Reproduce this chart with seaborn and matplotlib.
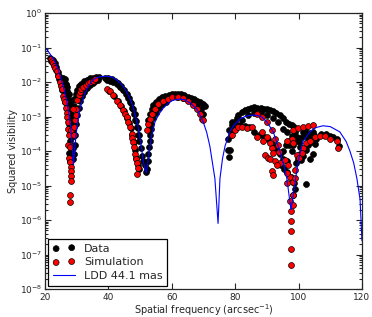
import numpy as np
import pandas as pd
import seaborn as sns
import matplotlib
matplotlib.use("Agg")
import matplotlib.pyplot as plt
from matplotlib.ticker import LogLocator, NullFormatter

# LDD model curve
ldd_x = [20, 21, 22, 22.8, 24, 25, 26, 27, 28, 28.5, 29.0, 29.4, 29.8, 30.3, 31, 31.6, 32.3, 33.3,
         34.4, 35.4, 36.4, 38, 39.6, 41, 42.5, 44, 45.2, 46.5, 47.8, 49.3, 50.3, 51.0, 51.9, 52.5,
         53.5, 54.7, 56, 57.2, 59, 60.5, 62.5, 64, 66, 68, 69.8, 71, 72, 73.6, 74.6, 75.2, 76.0,
         76.8, 78.4, 79.3, 81.5, 83.3, 85.3, 87, 88.5, 90, 92, 94.1, 95.3, 96.3, 97.6, 98.2, 99.5,
         100.5, 101.4, 103.6, 105.5, 107.7, 110, 113, 115, 116.2, 117.4, 118.4, 119.4, 120]
ldd_y = [0.10, 0.078, 0.057, 0.045, 0.025, 0.013, 6.2e-3, 2.4e-3, 6e-4, 1.8e-4, 4e-5, 1.2e-4, 3e-4,
         7e-4, 1.6e-3, 2.6e-3, 4e-3, 6.5e-3, 9.5e-3, 1.2e-2, 1.35e-2, 1.45e-2, 1.47e-2, 1.4e-2,
         1.18e-2, 8.8e-3, 6.3e-3, 3.8e-3, 1.9e-3, 5.4e-4, 1.6e-4, 5e-5, 2.3e-5, 5e-5, 2.5e-4, 7e-4,
         1.2e-3, 1.7e-3, 2.5e-3, 3e-3, 3.2e-3, 3.1e-3, 2.4e-3, 1.6e-3, 7.5e-4, 3.5e-4, 1.4e-4,
         1.6e-5, 8e-7, 1.6e-5, 6e-5, 1.4e-4, 3.8e-4, 5.2e-4, 8.5e-4, 1.02e-3, 1.1e-3, 1.08e-3,
         9.5e-4, 7e-4, 3.6e-4, 1e-4, 4e-5, 1.6e-5, 2e-6, 4.4e-6, 3e-5, 9e-5, 1.9e-4, 3.6e-4,
         4.8e-4, 5.4e-4, 5.1e-4, 3.6e-4, 1.9e-4, 1e-4, 4.5e-5, 1.6e-5, 4e-6, 2.5e-7]

# measured data (black), by lobe
d1_x = [21.6, 22.0, 22.5, 23.0, 23.5, 24.0, 24.5, 25.0, 25.5, 26.0, 26.4, 26.8, 27.2, 27.5, 27.8, 28.0, 28.2,
        22.4, 23.0, 23.6, 24.2, 24.8, 25.4, 26.0, 26.5, 27.0, 27.4, 27.8, 28.2, 28.5, 28.7,
        26.2, 26.6, 27.0, 27.4, 27.8, 28.2, 28.5, 28.8, 28.4, 28.7, 27.6, 28.0,
        25.6, 26.0, 26.5, 27.0, 27.6, 28.1, 28.4]
d1_y = [5.0e-2, 4.2e-2, 3.5e-2, 2.8e-2, 2.2e-2, 1.6e-2, 1.2e-2, 8.5e-3, 6.0e-3, 4.0e-3, 2.6e-3, 1.6e-3,
        1.0e-3, 6.0e-4, 3.5e-4, 2.0e-4, 1.2e-4,
        4.4e-2, 3.6e-2, 2.8e-2, 2.0e-2, 1.4e-2, 9.5e-3, 6.0e-3, 3.8e-3, 2.4e-3, 1.5e-3, 9.0e-4, 5.0e-4,
        2.5e-4, 1.2e-4,
        1.2e-2, 8.0e-3, 5.5e-3, 3.5e-3, 2.0e-3, 1.2e-3, 7.0e-4, 4.0e-4, 8.0e-5, 6.0e-5, 9e-5, 5e-5,
        1.3e-2, 1.1e-2, 9e-3, 7e-3, 4.5e-3, 2.8e-3, 1.8e-3]
d2_x = [28.6, 28.8, 29.0, 29.3, 29.7, 30.2, 30.8, 31.5, 32.3, 33.2, 34.2, 35.2, 36.2, 37.1,
        29.2, 29.4, 29.6, 29.9, 30.2, 30.6, 31.1, 31.7, 32.4, 33.2, 34.1, 35.0, 35.9, 36.8]
d2_y = [5e-4, 1e-3, 2e-3, 3.2e-3, 4.5e-3, 6e-3, 7.5e-3, 9e-3, 1.05e-2, 1.18e-2, 1.28e-2, 1.35e-2, 1.4e-2, 1.42e-2,
        8e-5, 1.5e-4, 3e-4, 6e-4, 1.1e-3, 1.8e-3, 2.8e-3, 4e-3, 5.3e-3, 6.8e-3, 8.2e-3, 9.5e-3, 1.05e-2, 1.15e-2]
d3_x = [39.0, 40.0, 41.0, 42.0, 43.0, 44.0, 45.0, 45.8, 46.5, 47.2, 47.8, 48.3, 48.8, 49.2, 49.6,
        39.6, 40.6, 41.6, 42.6, 43.6, 44.6, 45.4, 46.1, 46.8, 47.4, 48.0, 48.5, 49.0, 49.4,
        40.3, 41.8, 42.9, 44.0, 45.0, 46.0, 46.6, 47.1, 47.6, 48.1, 48.5, 48.8, 49.2, 49.5,
        49.8, 50.2, 50.6, 51.0, 51.4, 51.8, 52.2, 52.4, 52.6, 52.8, 53.0, 53.2, 53.4]
d3_y = [1.35e-2, 1.3e-2, 1.22e-2, 1.08e-2, 9.2e-3, 7.6e-3, 6.0e-3, 4.6e-3, 3.5e-3, 2.5e-3, 1.7e-3, 1.15e-3,
        7.5e-4, 4.8e-4, 3.0e-4,
        1.15e-2, 1.1e-2, 1.0e-2, 8.8e-3, 7.3e-3, 5.8e-3, 4.6e-3, 3.5e-3, 2.6e-3, 1.8e-3, 1.2e-3, 8e-4, 5e-4, 3e-4,
        5.5e-3, 3.9e-3, 2.8e-3, 2.0e-3, 1.4e-3, 9e-4, 6.5e-4, 4.6e-4, 3e-4, 1.8e-4, 1.1e-4, 6.5e-5, 4e-5, 3e-5,
        2e-4, 1.2e-4, 7e-5, 5e-5, 4e-5, 2.5e-5, 3e-5, 5e-5, 8e-5, 1.3e-4, 2e-4, 3e-4, 4.5e-4]
d4_x = [52.6, 53.1, 53.6, 54.2, 55.0, 56.0, 57.0, 58.0, 59.0, 60.0, 61.0, 62.0, 63.0,
        52.9, 53.5, 54.1, 54.9, 55.9, 57.0, 58.2,
        64.0, 65.0, 66.0, 67.0, 68.0, 69.0, 70.0, 70.6,
        63.5, 65.0, 66.5, 68.0, 69.2, 70.0]
d4_y = [8e-4, 1.2e-3, 1.6e-3, 2.1e-3, 2.6e-3, 3.2e-3, 3.6e-3, 4e-3, 4.2e-3, 4.4e-3, 4.5e-3, 4.5e-3, 4.4e-3,
        4e-4, 6e-4, 9e-4, 1.3e-3, 1.8e-3, 2.3e-3, 2.7e-3,
        4.1e-3, 3.8e-3, 3.5e-3, 3.2e-3, 2.9e-3, 2.6e-3, 2.3e-3, 2.0e-3,
        3.4e-3, 3.0e-3, 2.6e-3, 2.1e-3, 1.6e-3, 1.2e-3]
d5_x = [77.8, 77.8, 78.1, 78.4, 78.6, 79.0, 79.4, 80.0, 80.5, 77.9, 78.9,
        81.0, 82.0, 83.0, 84.0, 85.0, 86.0, 87.0, 88.0, 89.0, 90.0, 91.0, 92.0, 93.0, 94.0, 95.0, 96.0, 97.0, 98.0,
        82.0, 84.0, 86.0, 88.0, 90.0, 92.0, 93.5, 95.0, 96.5,
        81.5, 83.0, 84.5, 86.0, 87.5, 89.0, 90.5, 92.0, 93.0, 94.0, 95.0, 96.0, 97.0, 98.0,
        94.5, 95.5, 96.5, 97.5, 98.5, 99.0, 95.0, 96.5]
d5_y = [2.3e-4, 1.1e-4, 6.8e-5, 1.1e-4, 3e-4, 5.5e-4, 4.5e-4, 7e-4, 9e-4, 4e-4, 7e-4,
        1.1e-3, 1.35e-3, 1.55e-3, 1.7e-3, 1.8e-3, 1.85e-3, 1.8e-3, 1.75e-3, 1.7e-3, 1.6e-3, 1.5e-3, 1.45e-3,
        1.3e-3, 1.1e-3, 9e-4, 7e-4, 6e-4, 5.5e-4,
        8e-4, 1.1e-3, 1.3e-3, 1.25e-3, 1.1e-3, 9e-4, 7e-4, 4.5e-4, 3.5e-4,
        5.5e-4, 5.2e-4, 5e-4, 3.5e-4, 3e-4, 2.5e-4, 2.2e-4, 1.5e-4, 1.2e-4, 8e-5, 1e-4, 1.5e-4, 2e-4, 2.8e-4,
        4e-5, 3e-5, 2.5e-5, 1.8e-5, 1.2e-5, 8e-6, 6e-5, 5e-5]
d6_x = [98.5, 99.0, 99.5, 100.0, 100.5, 101.0, 101.5, 102.0, 102.5, 103.0, 103.5, 104.0, 104.5, 105.0, 105.5,
        100.3, 99.8, 99.3, 100.8, 101.5, 102.2, 103.0, 104.0, 105.2, 104.7, 103.5, 98.8, 98.2, 97.8, 97.0,
        107.0, 108.5, 110.0, 111.0, 112.0, 112.8, 102.4]
d6_y = [5e-4, 3.5e-4, 2.5e-4, 1.8e-4, 1.3e-4, 2.5e-4, 3.5e-4, 4e-4, 3e-4, 2.3e-4, 3.3e-4, 2.6e-4, 3.6e-4,
        3e-4, 2.2e-4,
        8e-5, 6e-5, 4.5e-5, 5.5e-5, 7e-5, 1.1e-4, 1.5e-4, 1.8e-4, 1.6e-4, 8e-5, 6e-5, 2.2e-4, 1.5e-4, 1e-4, 1.5e-4,
        3.2e-4, 3.2e-4, 2.8e-4, 2.6e-4, 2.3e-4, 1.4e-4, 1.1e-5]

# simulation (red), by lobe
s1_x = [21.8, 22.1, 22.4, 22.9, 23.3, 23.7, 24.2, 24.7, 25.0, 25.3, 25.8, 26.0, 26.3, 26.6, 26.8, 27.0, 27.2,
        27.4, 27.7, 27.9, 28.1, 27.3, 27.9, 27.6, 27.9, 28.1, 28.3, 28.3, 28.1, 27.9, 27.9]
s1_y = [4.7e-2, 4.1e-2, 3.6e-2, 2.9e-2, 2.5e-2, 2.1e-2, 1.5e-2, 9.7e-3, 7.8e-3, 6.2e-3, 4.0e-3, 3.2e-3,
        2.6e-3, 1.8e-3, 1.3e-3, 9.5e-4, 6.9e-4, 4.5e-4, 2.9e-4, 1.5e-4, 4.0e-4, 1.5e-4, 1.35e-4, 6.2e-5,
        4.9e-5, 3.5e-5, 2.6e-5, 1.9e-5, 1.4e-5, 5.5e-6, 3.4e-6]
s2_x = [29.1, 29.3, 29.5, 29.7, 29.9, 30.2, 30.6, 31.0, 31.5, 32.1, 32.8, 33.5, 34.3, 35.1, 35.9, 28.9]
s2_y = [2.9e-4, 5e-4, 8e-4, 1.1e-3, 1.7e-3, 3e-3, 4.2e-3, 5.3e-3, 6.3e-3, 7.3e-3, 8.3e-3, 9.2e-3, 1e-2,
        1.1e-2, 1.2e-2, 1.7e-3]
s3_x = [39.5, 40.4, 41.5, 42.6, 43.7, 44.7, 45.3, 45.8, 46.3, 46.8, 47.3, 47.6, 47.9, 48.2, 48.4, 48.6,
        48.9, 48.9, 49.2]
s3_y = [6.3e-3, 5.4e-3, 4.2e-3, 2.9e-3, 2.1e-3, 1.5e-3, 1.2e-3, 9.5e-4, 6.9e-4, 5e-4, 3.2e-4, 2.4e-4,
        1.8e-4, 1.3e-4, 8e-5, 6e-5, 4.4e-5, 2.2e-5, 3.2e-5]
s4_x = [52.1, 52.6, 53.1, 53.7, 54.7, 55.7, 57.3, 58.9, 60.0, 61.5, 62.0,
        63.6, 65.2, 66.8, 67.9, 68.9, 69.4, 69.9]
s4_y = [4e-4, 6.2e-4, 8.5e-4, 1.2e-3, 1.65e-3, 2.3e-3, 2.9e-3, 3.2e-3, 3.7e-3, 3.8e-3, 3.8e-3,
        3.4e-3, 2.9e-3, 2.1e-3, 1.65e-3, 1.2e-3, 8.5e-4, 7.7e-4]
s5_x = [78.9, 79.9, 81.0, 82.0, 83.6, 85.2, 86.8, 86.8, 88.4, 88.9, 90.0, 91.0, 91.5, 92.0, 89.4, 90.4,
        91.5, 92.0, 94.1, 95.7, 96.8, 97.3, 98.3, 97.8, 98.3, 99.4, 96.2, 88.5, 90.0, 91.5, 92.6, 93.4,
        93.9, 91.0, 92.5, 93.3, 96.2, 96.2]
s5_y = [2.9e-4, 4e-4, 5e-4, 5e-4, 4.8e-4, 5e-4, 2.6e-4, 1.2e-3, 3.5e-4, 2e-4, 2.6e-4, 1.7e-4, 1.2e-4,
        8.5e-5, 7.6e-5, 6.2e-5, 2.6e-5, 2e-5, 4.4e-5, 5.5e-5, 4e-5, 1.8e-5, 1.3e-5, 2.3e-4, 1.7e-4,
        7.6e-5, 2e-4, 1e-3, 7e-4, 4e-4, 2.3e-4, 1.5e-4, 9.5e-5, 6e-5, 5e-5, 4e-5, 2.3e-5, 1.2e-5]
s6_x = [98.3, 98.3, 97.3, 98.3, 97.5, 97.6, 97.6, 97.6, 97.6,
        98.3, 99.9, 101.5, 103.1, 104.6, 102.5, 103.6, 105.2, 106.8, 108.3, 109.9, 112.0, 112.5,
        101.5, 101.0, 100.2, 98.9, 98.9, 98.1]
s6_y = [1.26e-5, 5.5e-6, 3.5e-6, 2.8e-6, 1.8e-6, 9.3e-7, 4.9e-7, 1.45e-7, 5.1e-8,
        4e-4, 4.7e-4, 5e-4, 5.2e-4, 5.5e-4, 1.7e-4, 2e-4, 2.6e-4, 2.75e-4, 2.75e-4, 2.2e-4, 1.9e-4, 1.25e-4,
        1.2e-4, 8.5e-5, 6.2e-5, 2.8e-5, 1.7e-5, 5.5e-6]

data = pd.DataFrame({"x": d1_x + d2_x + d3_x + d4_x + d5_x + d6_x,
                     "y": d1_y + d2_y + d3_y + d4_y + d5_y + d6_y})
sim = pd.DataFrame({"x": s1_x + s2_x + s3_x + s4_x + s5_x + s6_x,
                    "y": s1_y + s2_y + s3_y + s4_y + s5_y + s6_y})
ldd = pd.DataFrame({"x": ldd_x, "y": ldd_y})

sns.set_style("ticks")
plt.rcParams["font.family"] = ["DejaVu Sans"]
plt.rcParams["mathtext.fontset"] = "dejavusans"

fig = plt.figure(figsize=(3.72, 3.17), dpi=100)
ax = fig.add_axes([0.121, 0.088, 0.852, 0.871])

sns.scatterplot(data=data, x="x", y="y", color="black", edgecolor="black", s=18, linewidth=0.5,
                label="Data", ax=ax)
sns.scatterplot(data=sim, x="x", y="y", color="red", edgecolor="black", s=18, linewidth=0.5,
                label="Simulation", ax=ax)
sns.lineplot(data=ldd, x="x", y="y", color="blue", lw=0.8, sort=False, estimator=None,
             label="LDD 44.1 mas", ax=ax)

ax.set_yscale("log")
ax.set_xlim(20, 120)
ax.set_ylim(1e-8, 1)
ax.set_xticks([20, 40, 60, 80, 100, 120])
ax.set_yticks([10.0 ** k for k in range(-8, 1)])
ax.yaxis.set_minor_locator(LogLocator(base=10, subs=np.arange(2, 10), numticks=20))
ax.yaxis.set_minor_formatter(NullFormatter())
ax.tick_params(which="both", direction="in", top=True, right=True, labelsize=6.5, width=0.8, pad=2)
ax.tick_params(axis="x", pad=3)
ax.tick_params(which="major", length=4)
ax.tick_params(which="minor", length=2)
for sp in ax.spines.values():
    sp.set_linewidth(0.9)

ax.set_xlabel("Spatial frequency (arcsec$^{-1}$)", fontsize=7, labelpad=0)
ax.set_ylabel("Squared visibility", fontsize=7, labelpad=1)

h, l = ax.get_legend_handles_labels()
leg = ax.legend(h, l, loc="lower left", scatterpoints=2, fontsize=8, fancybox=False,
                edgecolor="black", framealpha=1, borderaxespad=0.3, handlelength=2.0,
                labelspacing=0.35, borderpad=0.4)
leg.get_frame().set_linewidth(0.9)

fig.savefig("out.png", dpi=100)
